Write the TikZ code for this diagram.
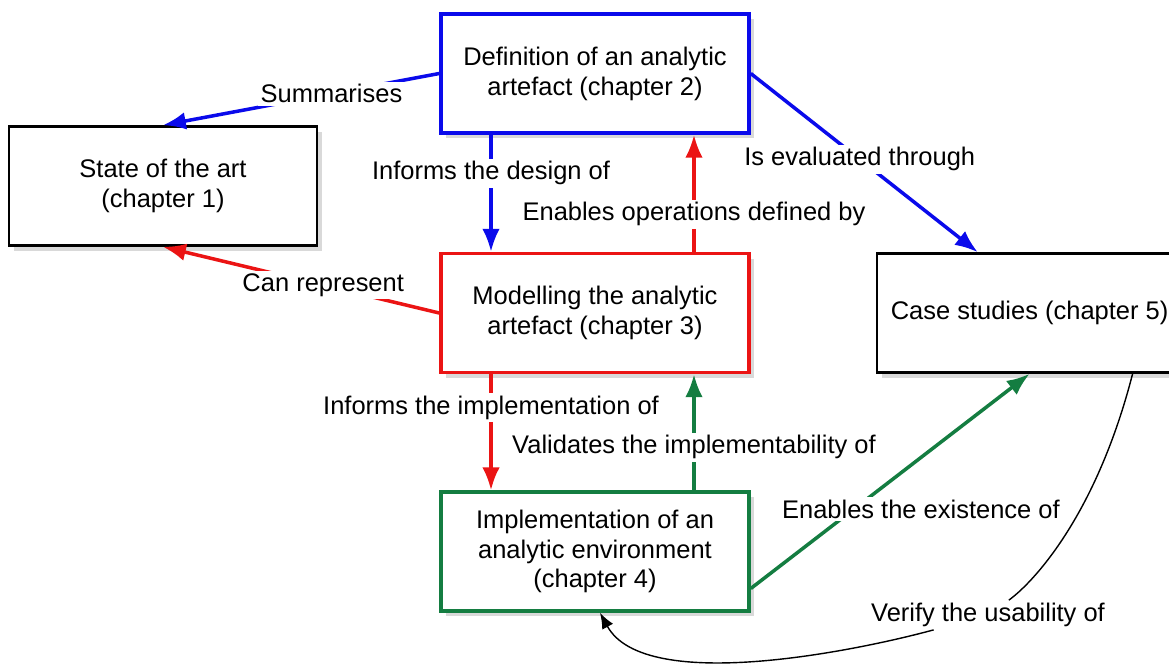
\documentclass[tikz,border=0pt]{standalone}
\usepackage{fontspec}
\setmainfont{Liberation Sans}
\usetikzlibrary{positioning, arrows.meta, shadows}
\definecolor{defblue}{RGB}{10,10,235}
\definecolor{modred}{RGB}{235,20,20}
\definecolor{impgreen}{RGB}{20,125,65}
\tikzset{
>={Latex[length=13pt,width=10pt]}, % filled arrow heads
node distance=2.34cm, % gap between the stacked chapters
chapter/.style={draw, line width=2pt, fill=white, align=center, minimum width=6.16cm, minimum height=2.38cm, font=\fontsize{14.5}{17}\selectfont, drop shadow={shadow xshift=3pt, shadow yshift=-3pt, opacity=.3}}, % one box per chapter
edgetext/.style={fill=white, text=black, inner sep=1.5pt, font=\fontsize{14.5}{17}\selectfont}, % text on the links
link/.style={->, line width=2pt},
}
\begin{document}
\begin{tikzpicture}
\useasboundingbox (0,0) rectangle (23.38,-13.4);
\node[chapter, draw=defblue] (def) at (11.9,-1.47) {Definition of an analytic\\artefact (chapter 2)};
\node[chapter, draw=black, line width=1.5pt] (art) at (3.26,-3.72) {State of the art\\(chapter 1)};
\node[chapter, draw=modred, below=of def] (model) {Modelling the analytic\\artefact (chapter 3)};
\node[chapter, draw=impgreen, below=2.32cm of model] (impl) {Implementation of an\\analytic environment\\(chapter 4)};
\node[chapter, draw=black, line width=1.5pt, minimum width=6.1cm, right=2.5cm of model] (case) {Case studies (chapter 5)};
\draw[link, defblue] (def.west) -- node[edgetext, pos=.39] (summ) {Summarises} (art.north);
\draw[link, modred] (model.west) -- node[edgetext, pos=.42] (canrep) {Can represent} (art.south);
\draw[link, defblue] ([xshift=-2.08cm]def.south) -- node[edgetext, pos=.33] (design) {Informs the design of} ([xshift=-2.08cm]model.north);
\draw[link, modred] ([xshift=1.98cm]model.north) -- node[edgetext, pos=.32] (operations) {Enables operations defined by} ([xshift=1.98cm]def.south);
\draw[link, defblue] (def.east) -- node[edgetext, pos=.48] (evaluated) {Is evaluated through} ([xshift=2.04cm]case.north west);
\draw[link, modred] ([xshift=-2.08cm]model.south) -- node[edgetext, pos=.29] (informs) {Informs the implementation of} ([xshift=-2.08cm]impl.north);
\draw[link, impgreen] ([xshift=1.98cm]impl.north) -- node[edgetext, pos=.37] (validates) {Validates the implementability of} ([xshift=1.98cm]model.south);
\draw[link, impgreen] ([yshift=-0.74cm]impl.east) -- node[edgetext, pos=.37, xshift=1.34cm] (existence) {Enables the existence of} (case.south);
% the usability loop goes round underneath
\node[edgetext, fill=none] (verify) at (19.76,-12.3) {Verify the usability of};
\draw[->, >={Latex[length=9pt,width=7pt]}, line width=.8pt] ([xshift=2.06cm]case.south) .. controls (21.9,-10.4) and (20.6,-11.7) .. (verify) .. controls (17.2,-13.0) and (12.9,-13.9) .. ([xshift=0.1cm]impl.south);
\end{tikzpicture}
\end{document}
